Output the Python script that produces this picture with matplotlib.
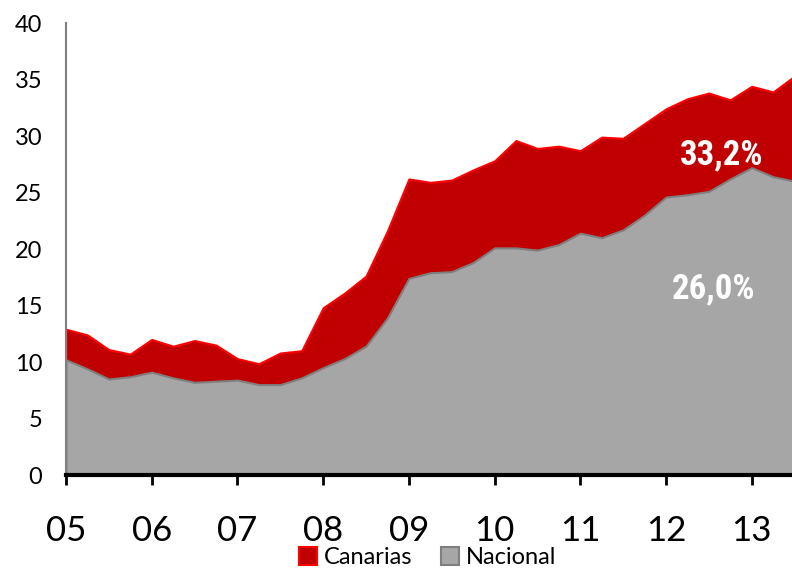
import numpy as np
import matplotlib
matplotlib.use("Agg")
import matplotlib.pyplot as plt
from matplotlib.patches import Patch
from matplotlib import font_manager

# Tasa de paro trimestral (%), 2005T1 - 2013T3
canarias = [12.9, 12.4, 11.1, 10.7, 12.0, 11.4, 11.9, 11.5,
            10.3, 9.85, 10.8, 11.0, 14.8, 16.1, 17.6, 21.6,
            26.2, 25.9, 26.1, 27.0, 27.8, 29.6, 28.9, 29.1,
            28.7, 29.9, 29.8, 31.1, 32.4, 33.3, 33.8, 33.2,
            34.4, 33.9, 35.3]
nacional = [10.2, 9.4, 8.5, 8.7, 9.1, 8.6, 8.2, 8.3,
            8.4, 8.0, 8.0, 8.6, 9.5, 10.3, 11.4, 13.9,
            17.4, 17.9, 18.0, 18.8, 20.1, 20.1, 19.9, 20.4,
            21.4, 21.0, 21.7, 23.0, 24.6, 24.8, 25.1, 26.2,
            27.2, 26.4, 26.0]
years = [5, 6, 7, 8, 9, 10, 11, 12, 13]
year_labels = ['05', '06', '07', '08', '09', '10', '11', '12', '13']
y_ticks = [0, 5, 10, 15, 20, 25, 30, 35, 40]

x = 5 + np.arange(len(canarias)) * 0.25

# fuente estrecha para las etiquetas blancas, si existe
nombres = {f.name for f in font_manager.fontManager.ttflist}
estrecha = None
for cand in ['Liberation Sans Narrow', 'Roboto Condensed', 'DejaVu Sans Condensed']:
    if cand in nombres:
        estrecha = cand
        break

fig = plt.figure(figsize=(7.92, 5.68), dpi=100)
ax = fig.add_axes([0.0833, 0.1637, 0.9167, 0.7958])

ax.fill_between(x, 0, canarias, facecolor='#C00000', edgecolor='#FF0000', linewidth=1.5)
ax.fill_between(x, 0, nacional, facecolor='#A6A6A6', edgecolor='#7F7F7F', linewidth=1.5)

ax.set_xlim(5, 13.47)
ax.set_ylim(0, 40)

ax.set_xticks(years)
ax.set_xticklabels(year_labels, fontsize=25, family='Lato')
ax.set_yticks(y_ticks)
ax.set_yticklabels([str(v) for v in y_ticks], fontsize=17, family='Lato')

ax.tick_params(axis='x', direction='out', length=7, width=2, color='black', pad=22)
ax.tick_params(axis='y', length=0, pad=17)

for s in ['top', 'right']:
    ax.spines[s].set_visible(False)
ax.spines['left'].set_color('#808080')
ax.spines['left'].set_linewidth(1.5)
ax.spines['bottom'].set_color('black')
ax.spines['bottom'].set_linewidth(3)

if estrecha:
    kw = dict(family=estrecha, fontsize=25)
else:
    kw = dict(family='DejaVu Sans', fontstretch='condensed', fontsize=21)
ax.text(12.65, 28.3, '33,2%', color='white', fontweight='bold',
        ha='center', va='center', **kw)
ax.text(12.56, 16.5, '26,0%', color='white', fontweight='bold',
        ha='center', va='center', **kw)

handles = [Patch(facecolor='#C00000', edgecolor='#FF0000', linewidth=1.5, label='Canarias'),
           Patch(facecolor='#A6A6A6', edgecolor='#7F7F7F', linewidth=1.5, label='Nacional')]
fig.legend(handles=handles, loc='center', bbox_to_anchor=(0.54, 0.018), ncol=2,
           frameon=False, prop={'family': 'Lato', 'size': 17},
           handlelength=0.75, handleheight=0.75, handletextpad=0.3, columnspacing=1.2,
           borderpad=0.1)

fig.savefig('out.png', dpi=100)
